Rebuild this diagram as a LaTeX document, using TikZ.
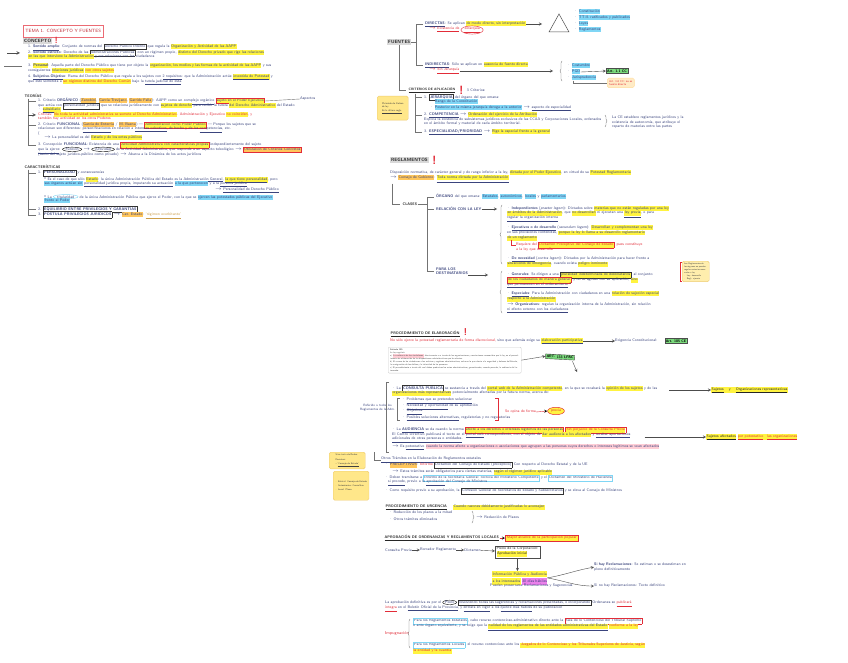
\documentclass[tikz,border=0pt]{standalone}
\usepackage{tikz}
\usepackage{xcolor}
\usetikzlibrary{shapes,arrows,positioning,calc,decorations.pathreplacing}

\definecolor{pen}{RGB}{58,68,125}
\definecolor{penred}{RGB}{226,44,56}
\definecolor{hly}{RGB}{255,243,64}
\definecolor{hlc}{RGB}{128,214,245}
\definecolor{hlo}{RGB}{255,198,92}
\definecolor{hlg}{RGB}{122,218,124}
\definecolor{hlp}{RGB}{255,206,214}
\definecolor{hlm}{RGB}{234,128,234}
\definecolor{note}{RGB}{255,231,138}
\definecolor{noteedge}{RGB}{238,204,112}

\newcommand{\mky}[1]{{\setlength{\fboxsep}{0.3pt}\colorbox{hly}{\strut #1}}}
\newcommand{\mkc}[1]{{\setlength{\fboxsep}{0.3pt}\colorbox{hlc}{\strut #1}}}
\newcommand{\mko}[1]{{\setlength{\fboxsep}{0.3pt}\colorbox{hlo}{\strut #1}}}
\newcommand{\mkp}[1]{{\setlength{\fboxsep}{0.3pt}\colorbox{hlp}{\strut #1}}}
\newcommand{\mkm}[1]{{\setlength{\fboxsep}{0.3pt}\colorbox{hlm}{\strut #1}}}
\newcommand{\bxk}[2][white]{{\setlength{\fboxsep}{0.5pt}\setlength{\fboxrule}{0.45pt}\fcolorbox{black!80}{#1}{\strut #2}}}
\newcommand{\bxr}[2][white]{{\setlength{\fboxsep}{0.5pt}\setlength{\fboxrule}{0.45pt}\fcolorbox{penred}{#1}{\strut #2}}}
\newcommand{\bxc}[2][white]{{\setlength{\fboxsep}{0.5pt}\setlength{\fboxrule}{0.5pt}\fcolorbox{hlc}{#1}{\strut #2}}}
\newcommand{\und}[1]{\underline{#1}}
\newcommand{\toarr}{$\rightarrow$}
\newcommand{\circr}[2][penred]{\tikz[baseline=(w.base)]\node[ellipse,draw=#1,inner sep=0.2pt,anchor=base](w){#2};}

\tikzset{
  txt/.style={anchor=west, inner sep=0pt, text=pen, font=\sffamily\fontsize{3.8}{4.4}\selectfont},
  rtxt/.style={txt, text=penred},
  head/.style={anchor=west, inner sep=1pt, fill=black!15, text=black!85, font=\sffamily\bfseries\fontsize{4.6}{5.2}\selectfont},
  subhead/.style={anchor=west, inner sep=0.5pt, text=black!85, font=\sffamily\bfseries\fontsize{3.7}{4.4}\selectfont},
  bang/.style={inner sep=0pt, text=penred, font=\sffamily\bfseries\fontsize{12}{12}\selectfont},
  stick/.style={anchor=north west, fill=note, draw=noteedge, rounded corners=1.5pt, inner sep=2pt, align=left, text=black!75, font=\sffamily\fontsize{2.4}{4.2}\selectfont},
  artbox/.style={draw=black!70, fill=hlg, inner sep=1pt, text=black, font=\sffamily\bfseries\fontsize{3.6}{4.2}\selectfont},
  lnk/.style={->, >=stealth, draw=black!70, line width=0.4pt},
  brk/.style={draw=black!55, line width=0.4pt},
  brc/.style={brk, decorate, decoration={brace, amplitude=2pt}},
}

\begin{document}
\begin{tikzpicture}[x=1pt, y=-1pt]
    \useasboundingbox[fill=white] (0,0) rectangle (848,663);

    % Titulo
    \node[draw=penred!70, line width=0.5pt, minimum height=12pt, inner sep=2pt, anchor=west, text=penred!85!black, font=\sffamily\fontsize{4.6}{5}\selectfont] (tema) at (23,31) {TEMA 1. CONCEPTO Y FUENTES};

    % Concepto
    \node[head] (conc) at (23,41) {CONCEPTO};
    \node[bang, font=\sffamily\bfseries\fontsize{9}{9}\selectfont, right=2pt of conc, yshift=0.5pt] (b1) {!};
    \node[txt] (c1) at (28,47) {1. \textbf{\und{Sentido amplio}}: Conjunto de normas del \bxk{Derecho Público Interno} que regula la \mky{Organización y Actividad de las AAPP}};
    \node[txt] (c2) at (28,53) {2. \textbf{\und{Sentido estricto}}: Derecho de las \bxk{Administraciones Públicas}, con un régimen propio, \mky{distinto del Derecho privado que rige las relaciones}};
    \node[txt] (c2b) at (28,57) {\mky{en las que interviene la Administración} y sus relaciones con los ciudadanos};
    \node[txt] (c3) at (28,66) {3. \textbf{\mky{Personal}}: Aquella parte del Derecho Público que tiene por objeto la \mky{organización, los medios y las formas de la actividad de las AAPP} y sus};
    \node[txt] (c3b) at (28,71) {consiguientes \mky{relaciones jurídicas} \mky{\textcolor{penred}{con otros sujetos}}};
    \node[txt] (c4) at (28,77) {4. \textbf{\und{Subjetivo-Objetivo}}: Rama del Derecho Público que regula a los sujetos con \und{2 requisitos}: que la Administración actúe \mky{\und{investida de Potestad}} y};
    \node[txt] (c4b) at (28,82) {que esté sometida a \mky{\textcolor{penred}{un régimen distinto del Derecho Común}} bajo la \und{tutela judicial de ésta}.};
    \coordinate (f2) at (7,53);
    \draw[lnk, line width=0.6pt, shorten >=8pt] (f2) -- (c2.west);
    \coordinate (f3) at (4,66);
    \draw[brk, shorten >=6pt] (f3) -- (c3.west);

    % Teorias
    \node[subhead] (teo) at (24,96) {TEORÍAS};
    \node[txt] (t1) at (38,101) {1. Criterio \textbf{ORGÁNICO} (\mko{Zanobini}, \mko{García Trevijano}, \mko{Garrido Falla}): AAPP como un \und{complejo orgánico} \bxr[hly]{sujeto en el Poder Ejecutivo}};
    \node[txt] (t1n) at (300,99) {Aspectos};
    \node[txt] (t1b) at (38,106) {que actúa con \bxk{personalidad jurídica} que se relaciona jurídicamente con \mky{sujetos de derecho} para recibir la tutela \mky{del Derecho Administrativo} del Estado};
    \node[txt] (t1c) at (38,110) {· \mky{\und{subsidiario}}};
    \node[rtxt] (t1d) at (38,115) {Críticas: \mky{No toda la actividad administrativa se somete al Derecho Administrativo}. Administración y Ejecutivo \mky{no coinciden}, y};
    \node[rtxt] (t1e) at (38,119) {también hay actividad en los otros Poderes};
    \node[txt] (t2) at (38,125) {2. Criterio \textbf{FUNCIONAL} (\mko{García de Enterría} / \mko{M. Baena}) --- \bxr[hly]{Administración como Poder Público} --- Porque los sujetos que se};
    \node[txt] (t2b) at (38,130) {relacionan son diferentes: \und{personificaciones} en relación a \und{intereses colectivos}, de hecho y de las \und{competencias}, etc.};
    \node[txt] (t2c) at (38,134) {(};
    \node[txt] (t2d) at (44,138) {\toarr{} La personalidad es del \mky{Estado y de los entes públicos}};
    \node[txt] (t3) at (38,145) {3. Concepción \textbf{FUNCIONAL}: Existencia de una \bxr[hly]{Actividad Administrativa con características propias} independientemente del sujeto};
    \node[txt] (t3b) at (38,150) {\und{que la ejerce}: \circr[black]{Función} \toarr{} \circr[black]{Actividad} de la Actividad Administrativa, que responde a un aspecto teleológico \toarr{} \bxr[hlo]{Utilización de Criterios Concretos}};
    \node[txt] (t3c) at (38,155) {(tanto del sujeto jurídico-público como privado) \toarr{} Abarca a la Dinámica de los actos jurídicos};
    \foreach \t in {t1,t2,t3}
        \draw[brk, shorten >=2pt] (28,99) |- (\t.west);
    \coordinate (f4) at (28,115);
    \draw[lnk, line width=0.6pt, shorten >=2pt] (f4) -- (t1d.west);
    \draw[brk] (t1.east) -- (t1n.west);

    % Caracteristicas
    \node[subhead] (car) at (24,167) {CARACTERÍSTICAS};
    \node[txt] (k1) at (38,173) {1. \bxk{\textbf{PERSONALIDAD}} \textit{y consecuencias}};
    \node[txt] (k1a) at (44,180) {* Es el caso de que sólo \mky{Estado}: la única Administración Pública del Estado es la \und{Administración General}, \mky{\und{la que tiene personalidad}}, pero};
    \node[txt] (k1b) at (44,184) {\mkc{sus órganos actúan sin} \und{personalidad jurídica propia, imputando su actuación} \mkc{a la que pertenecen} y a la \und{persona jurídica}};
    \node[txt] (k1c) at (215,190) {\toarr{} \und{Personalidad de Derecho Público}};
    \node[txt] (k1d) at (44,197) {* La \circr[hlc]{titularidad} de la única Administración Pública que ejerce el Poder, con la que se \mkc{ejercen las potestades públicas del Ejecutivo}};
    \node[txt] (k1e) at (44,201) {\mkc{frente al Poder}};
    \node[txt] (k2) at (38,209) {2. \bxk{\textbf{EQUILIBRIO ENTRE PRIVILEGIOS Y GARANTÍAS}}};
    \node[txt] (k3) at (38,215) {3. \bxk{\textbf{POSTULA PRIVILEGIOS JURÍDICOS}} \toarr{} \mko{Cat. Estado}: \textcolor{hlo!80!black}{\und{`régimen exorbitante'}}};
    \foreach \t in {k1,k2,k3}
        \draw[brk, shorten >=2pt] (28,170) |- (\t.west);

    % Fuentes
    \node[head] (fue) at (387,42) {FUENTES};
    \node[txt] (dir) at (425,24) {\textbf{\und{DIRECTAS}}: Se aplican \mky{de modo directo, sin interpretación}};
    \node[rtxt] (dir2) at (429,30) {\toarr{} \und{Existencia de} \circr{\und{Jerarquía}}};
    \node[txt] (ind) at (425,65) {\textbf{\und{INDIRECTAS}}: Sólo se aplican en \mky{ausencia de fuente directa}};
    \node[rtxt] (ind2) at (429,71) {\toarr{} \und{Sin Jerarquía}};
    \foreach \t in {dir,ind}
        \draw[brk, shorten >=2pt] (fue.east) -- ++(5,0) |- (\t.west);
    \draw[black!70, line width=0.5pt] (549,32) -- (559,14) -- (569,32) -- cycle;
    \coordinate (pir) at (542,24);
    \draw[lnk] (dir.east) -- (pir);
    \node[txt] (fl1) at (574,12) {· \mkc{Constitución}};
    \node[txt] (fl2) at (574,18) {· \mkc{TT.II. ratificados y publicados}};
    \node[txt] (fl3) at (574,24) {· \mkc{Leyes}};
    \node[txt] (fl4) at (574,30) {· \mkc{Reglamentos}};
    \coordinate (bri) at (553,71);
    \draw[lnk] (ind2.east) -- (bri);
    \draw[brc] (562,81) -- (562,61);
    \node[txt] (fi1) at (567,66) {· \mkc{Costumbre}};
    \node[txt] (fi2) at (567,72) {· \mkc{PGD}};
    \node[txt] (fi3) at (567,78) {· \mkc{Jurisprudencia}};
    \node[artbox] (a11) at (617,71) {Art. 1.1 CC};
    \draw[lnk] (fi2.east) -- (a11.west);
    \node[stick, fill=hlo!35, draw=hlo!60, text=penred, font=\sffamily\fontsize{2.8}{3.4}\selectfont] (n16) at (607,78) {Art. 1.6 CC: no es\\fuente directa};
    \draw[brk] ($(fi3.south west)+(6,0)$) |- (n16.west);

    % Criterios
    \node[subhead, font=\sffamily\bfseries\fontsize{3.3}{4}\selectfont] (cri) at (408,90) {\und{CRITERIOS DE APLICACIÓN}};
    \node[bang, right=3pt of cri] (b2) {!};
    \node[txt, right=3pt of b2] (cri2) {3 Criterios:};
    \draw[brk, shorten >=2pt] (fue.south) |- (cri.west);
    \node[txt] (cr1) at (424,97) {1. \bxk{\textbf{JERARQUÍA}} del órgano del que emana:};
    \node[txt] (cr1a) at (430,102) {· \mkc{Rango de la Constitución}};
    \node[txt] (cr1b) at (430,108) {· \mkc{Posterior en la misma jerarquía deroga a la anterior} \toarr{} \und{aspecto de especialidad}};
    \node[txt] (cr2) at (424,115) {2. \und{\textbf{COMPETENCIA}} \toarr{} \mky{Ordenación del ejercicio de la Atribución}};
    \node[txt] (cr2a) at (424,120) {Explica la existencia de subsistemas jurídicos exclusivos de las CCAA y Corporaciones Locales, ordenados};
    \node[txt] (cr2b) at (424,124) {en el ámbito formal y material de cada ámbito territorial.};
    \node[txt] (cr3) at (424,132) {3. \und{\textbf{ESPECIALIDAD/PRIORIDAD}} \toarr{} \mky{Rige la especial frente a la general}};
    \foreach \t in {cr1,cr2,cr3}
        \draw[brk, shorten >=2pt] (415,94) |- (\t.west);
    \draw[brc] (605,115) -- (605,127);
    \node[txt, anchor=north west, align=left] (crn) at (612,116) {La CE establece reglamentos jurídicos y la\\existencia de autonomía, que atribuye el\\reparto de materias entre las partes};
    \node[stick, minimum width=31pt, minimum height=24pt, font=\sffamily\fontsize{2.5}{3.4}\selectfont] (nk) at (377,96) {Pirámide de Kelsen\\de ley\\\und{Es la última regla}};

    % Reglamentos
    \node[head] (reg) at (390,160) {REGLAMENTOS};
    \node[bang, right=3pt of reg] (b3) {!};
    \node[txt] (r1) at (390,173) {Disposición normativa, de carácter general y de rango inferior a la ley, \mky{dictada por el Poder Ejecutivo}, en virtud de su \mky{Potestad Reglamentaria}};
    \node[txt] (r1b) at (390,179) {\toarr{} \mko{Consejo de Gobierno}: \und{\mky{Toda norma dictada por la Administración}}};
    \node[subhead] (cla) at (402,204) {CLASES};
    \draw[brk, shorten >=2pt] ($(r1b.south west)+(2,1)$) |- (cla.west);
    \node[txt] (org) at (436,197) {\textbf{ÓRGANO} del que emana: \mkc{Estatales}, \mkc{autonómicos}, \mkc{locales} y \mkc{parlamentarios}};
    \node[txt] (rel) at (436,209) {\textbf{RELACIÓN CON LA LEY}};
    \node[txt, align=left] (des) at (436,271) {\textbf{PARA LOS}\\\textbf{DESTINATARIOS}};
    \foreach \t in {org,rel,des}
        \draw[brk, shorten >=2pt] (cla.east) -- (427,204) |- (\t.west);
    \coordinate (brr1) at (497,209);
    \draw[lnk] (rel.east) -- (brr1);
    \draw[brc] (502,264) -- (502,205);
    \node[txt] (re1) at (507,209) {· \textbf{\und{Independientes}} (\textit{praeter legem}): Dictados sobre \mky{materias que no están reguladas por una ley}};
    \node[txt] (re1b) at (507,214) {\mky{en ámbitos de la Administración}, que \mky{no desarrollan} ni ejecutan una \und{\mky{ley previa}}, o para};
    \node[txt] (re1c) at (507,219) {\und{regular la organización interna}};
    \node[txt] (re2) at (507,228) {· \textbf{\und{Ejecutivos o de desarrollo}} (\textit{secundum legem}): \mky{Desarrollan y complementan una ley}};
    \node[txt] (re2b) at (507,233) {en sus previsiones contenidas, \mky{porque la ley lo llama a su desarrollo reglamentario}};
    \node[txt] (re2c) at (507,238) {\mky{de un reglamento}};
    \node[rtxt] (re2d) at (516,245) {Requiere del \bxr[hly]{Dictamen Preceptivo del Consejo de Estado}, pues constituye};
    \node[rtxt] (re2e) at (516,250) {a la ley que desarrolla};
    \draw[penred, line width=0.4pt] (511,240) |- (re2d.west);
    \node[txt] (re3) at (507,259) {· \textbf{\und{De necesidad}} (\textit{contra legem}): Dictados por la Administración para hacer frente a};
    \node[txt] (re3b) at (507,264) {\mky{situaciones de emergencia}, cuando exista \mky{peligro inminente}};
    \coordinate (brr2) at (488,275);
    \draw[lnk] ($(des.east)+(0,4)$) -- (brr2);
    \draw[brc] (502,313) -- (502,271);
    \node[txt] (rd1) at (507,275) {· \textbf{\und{Generales}}: Se dirigen a una \bxk[hly]{pluralidad indeterminada de destinatarios}, al conjunto};
    \node[txt] (rd1b) at (507,280) {\bxr[hly]{de los ciudadanos de manera general}, y no se agotan con su aplicación, \mky{sino}};
    \node[txt] (rd1c) at (507,285) {\und{que permanecen en el ordenamiento} *};
    \node[txt] (rd2) at (507,294) {· \textbf{\und{Especiales}}: Para la Administración con ciudadanos en una \mky{relación de sujeción especial}};
    \node[txt] (rd2b) at (507,299) {\mky{respecto a la Administración}};
    \node[txt] (rd3) at (507,305) {\toarr{} \textbf{Organizativos}: regulan la organización interna de la Administración, sin relación};
    \node[txt] (rd3b) at (507,310) {\und{ni efecto externo con los ciudadanos}};
    \node[stick, fill=note!70, text width=23pt, font=\sffamily\fontsize{2.2}{2.9}\selectfont] (nreg) at (682,261) {Los Reglamentos de los órganos no pueden regular materias reservadas a ley\\· Ley: desarrolla\\· Regl.: ejecuta};
    \draw[penred, line width=0.45pt] ($(nreg.north west)+(0,1)$) -- ++(-2,0) |- ($(nreg.south west)+(0,-1)$);

    % Procedimiento de elaboracion
    \node[subhead] (pro) at (390,334) {\und{PROCEDIMIENTO DE ELABORACIÓN}};
    \node[bang, font=\sffamily\bfseries\fontsize{10}{10}\selectfont, right=3pt of pro, yshift=2pt] (b4) {!};
    \node[rtxt] (p1) at (390,341) {No sólo ejerce la potestad reglamentaria de forma discrecional, \textcolor{pen}{sino que además exige su} \mky{\textcolor{pen}{\und{elaboración participativa}}}};
    \node[txt] (exc) at (615,341) {Exigencia Constitucional:};
    \node[artbox] (a105) at (676,341) {Art. 105 CE};
    \draw[lnk] (p1.east) -- (exc.west);
    \node[draw=black!20, rounded corners=1pt, anchor=north west, text width=129pt, inner sep=2pt, align=left, text=black!70, font=\sffamily\fontsize{2.2}{2.9}\selectfont] (art) at (388,347) {\textbf{Artículo 105}\par La ley regulará:\par a) \mkp{La audiencia de los ciudadanos}, directamente o a través de las organizaciones y asociaciones reconocidas por la ley, en el procedimiento de elaboración de las disposiciones administrativas que les afecten.\par b) El acceso de los ciudadanos a los archivos y registros administrativos, salvo en lo que afecte a la seguridad y defensa del Estado, la averiguación de los delitos y la intimidad de las personas.\par c) El procedimiento a través del cual deben producirse los actos administrativos, garantizando, cuando proceda, la audiencia del interesado.};
    \node[artbox, rotate=-3] (a133) at (560,357) {ART. 133 LPAC};
    \draw[lnk] (art.east) -- (a133.west);
    \coordinate (a133d) at (577,372);
    \draw[lnk] ($(a133.south east)+(-2,1)$) -- (a133d);
    \node[txt, align=center, font=\sffamily\fontsize{3.2}{4.2}\selectfont] (ref) at (360,408) {Referido a todos los\\Reglamentos de la Adm.};
    \draw[brk] (389,382) -- (386,382) -- (386,452) -- (389,452);
    \node[txt] (pc1) at (392,388) {· La \bxk{\textbf{CONSULTA PÚBLICA}} se sustancia a través del \mky{portal web de la Administración competente}, en la que se recabará la \mky{opinión de los sujetos} y de las};
    \node[txt] (pc1b) at (392,393) {\mky{organizaciones más representativas} potencialmente afectadas por la futura norma, acerca de:};
    \node[txt] (ps1) at (402,401) {· \und{Problemas que se pretenden solucionar}};
    \node[txt] (ps2) at (402,407) {· \und{Necesidad y oportunidad} de su aprobación};
    \node[txt] (ps3) at (402,412) {· \und{Objetivos}};
    \node[txt] (ps4) at (402,418) {· \und{Posibles soluciones alternativas}, regulatorias y no regulatorias};
    \draw[brk] (400,398) -- (397,398) -- (397,420) -- (400,420);
    \draw[penred, line width=0.4pt] (495,398) -- (498,398) -- (498,420) -- (495,420);
    \node[rtxt] (opi) at (505,412) {Se opina de forma};
    \node[ellipse, draw=penred, fill=hly, line width=0.5pt, inner sep=1pt, text=penred, font=\sffamily\fontsize{3.8}{4.4}\selectfont] (pre) at (556,411) {previa};
    \draw[lnk, draw=penred] (opi.east) -- (pre.west);
    \node[txt] (suj) at (711,390) {\mky{\textcolor{black!85}{\und{Sujetos} \quad y \quad \und{Organizaciones representativas}}}};
    \draw[lnk] (pc1.east) ++(12,2) coordinate (pcx) -- (suj.west);
    \node[txt] (pc2) at (392,430) {· La \textbf{\und{AUDIENCIA}} se da cuando la norma \bxr[hly]{afecte a los derechos e intereses legítimos de las personas} \bxr{\textcolor{penred}{\mky{Sin perjuicio de la Consulta Previa}}}};
    \node[txt] (pc2b) at (392,435) {El Centro Directivo publicará el texto en el \und{portal web} correspondiente, con el objeto de \mky{dar audiencia a los afectados} y \und{recabar aportaciones}};
    \node[txt] (pc2c) at (392,440) {\und{adicionales de otras personas o entidades}.};
    \node[txt] (saf) at (706,437) {\mky{\textcolor{black!85}{\und{Sujetos afectados}}} \mky{\textcolor{penred}{\und{por potestativo}\quad\und{las organizaciones}}}};
    \draw[lnk] (pc2b.east) ++(14,2) coordinate (pcy) -- (saf.west);
    \node[txt] (pc3) at (392,447) {\toarr{} Es \und{potestativo} \mkp{cuando la norma afecte a organizaciones o asociaciones que agrupen a las personas cuyos derechos o intereses legítimos se vean afectados}};

    % Notas
    \node[stick, minimum width=36pt] (s1) at (329,452) {Si se trata de Reales\\Decretos:\\-- \und{`Consejo de Estado'}};
    \node[stick, minimum width=32pt, minimum height=29pt] (s2) at (333,471) {· Estatal: Consejo de Estado\\· Autonómico: Consultivo\\· Local: Pleno};

    % Otros tramites
    \node[txt] (ot) at (381,460) {\und{Otros Trámites en la Elaboración de Reglamentos estatales}};
    \draw[brk] (374,452) |- (ot.west);
    \node[txt] (o1) at (385,465) {· \mko{PRECEPTIVOS}: \textcolor{penred}{Informe} \bxk{Dictamen del Consejo de Estado (preceptivo)} Con respecto al Derecho Estatal y de la UE};
    \node[txt] (o1b) at (392,472) {\toarr{} Estos trámites serán obligatorios para ciertas materias, \mky{según el régimen jurídico aplicable}};
    \node[txt] (o2) at (385,478) {· Deben tramitarse a \bxc{Informe de la Secretaría General Técnica del Ministerio Competente} y el \bxc{Dictamen del Ministerio de Hacienda}};
    \node[txt] (o2b) at (388,483) {\und{si procede}, previo a la \und{aprobación} del Consejo de Ministros};
    \node[txt] (o3) at (385,491) {· Como requisito previo a su aprobación, la \bxk{Comisión General de Secretarios de Estado y Subsecretarios} y se eleva al Consejo de Ministros};

    % Urgencia
    \node[subhead] (urg) at (385,507) {\und{PROCEDIMIENTO DE URGENCIA}};
    \node[txt] (urg1) at (453,507) {\mky{Cuando razones debidamente justificadas lo aconsejen}};
    \node[txt] (u1) at (389,513) {· Reducción de los plazos a la mitad};
    \node[txt] (u2) at (389,519) {· Otros trámites eliminados};
    \draw[brc] (472,511) -- (472,523);
    \node[txt] (u3) at (476,517) {\toarr{} Reducción de Plazos};

    % Ordenanzas locales
    \node[subhead] (apr) at (384,538) {\und{APROBACIÓN DE ORDENANZAS Y REGLAMENTOS LOCALES}};
    \node[draw=penred, fill=hly, line width=0.5pt, inner sep=1.5pt, anchor=west, text=penred, font=\sffamily\fontsize{3.8}{4.4}\selectfont] (may) at (505,538) {Mayor alcance de la participación popular};
    \draw[lnk, draw=penred] (apr.east) -- (may.west);
    \node[txt] (cp) at (385,550) {Consulta Previa};
    \node[txt, right=8pt of cp] (bor) {Borrador Reglamento};
    \node[txt, right=8pt of bor] (dic) {Dictamen};
    \node[draw=black!70, anchor=west, align=left, inner sep=1.5pt, text=black!85, font=\sffamily\fontsize{3.8}{5}\selectfont] (ple) at (495,552) {Pleno de la Corporación:\\\mky{Aprobación inicial}};
    \draw[lnk] (cp) -- (bor);
    \draw[lnk] (bor) -- (dic);
    \draw[lnk] (dic) -- (ple);
    \node[txt, anchor=north west, align=left, font=\sffamily\fontsize{3.8}{5.6}\selectfont] (inf) at (492,571) {\mky{Información Pública y Audiencia}\\\mky{a los interesados} \mkm{30 días hábiles}};
    \node[txt] (inf2) at (490,586) {Pueden presentarse Reclamaciones y Sugerencias};
    \draw[lnk] (ple.south) -- (ple.south |- inf.north);
    \node[txt, anchor=north west, align=left] (rc1) at (594,563) {\textbf{Si hay Reclamaciones}: Se estiman o se desestiman en\\pleno definitivamente};
    \node[txt] (rc2) at (594,586) {Si no hay Reclamaciones: Texto definitivo};
    \draw[lnk] (inf.east) to[out=10, in=190] (rc1.west);
    \draw[lnk] (inf.east) to[out=-10, in=180] (rc2.west);
    \node[txt] (fin1) at (385,603) {La aprobación definitiva es por el \circr[black]{Pleno} \bxk{resolviendo todas las sugerencias y reclamaciones presentadas, e incorporando} Ordenanza se \textcolor{penred}{\und{publicará}}};
    \node[txt] (fin2) at (385,609) {\textcolor{penred}{\und{íntegra}} en el \und{Boletín Oficial de la Provincia}, y \und{entrará en vigor} a los \und{quince días hábiles} de su publicación};

    % Impugnacion
    \node[rtxt, font=\sffamily\fontsize{4.2}{5}\selectfont] (imp) at (385,633) {Impugnación};
    \draw[brc] (410,648) -- (410,619);
    \node[txt] (im1) at (413,621) {\bxc{Para los Reglamentos Estatales}, cabe recurso contencioso-administrativo directo ante la \bxr{Sala de lo Contencioso del Tribunal Supremo}};
    \node[txt] (im1b) at (413,627) {o ante órgano equivalente, y se exige que la \und{\mky{nulidad de los reglamentos de las entidades administrativas del Estado}} \textcolor{penred}{\mky{conforme a la ley}}};
    \node[txt] (im2) at (413,645) {\bxc{Para los Reglamentos Locales}, el recurso contencioso ante los \mky{\textcolor{penred}{Juzgados de lo Contencioso y los Tribunales Superiores de Justicia, según}}};
    \node[txt] (im2b) at (413,651) {\mky{\textcolor{penred}{la entidad y la cuantía}}};
\end{tikzpicture}
\end{document}
